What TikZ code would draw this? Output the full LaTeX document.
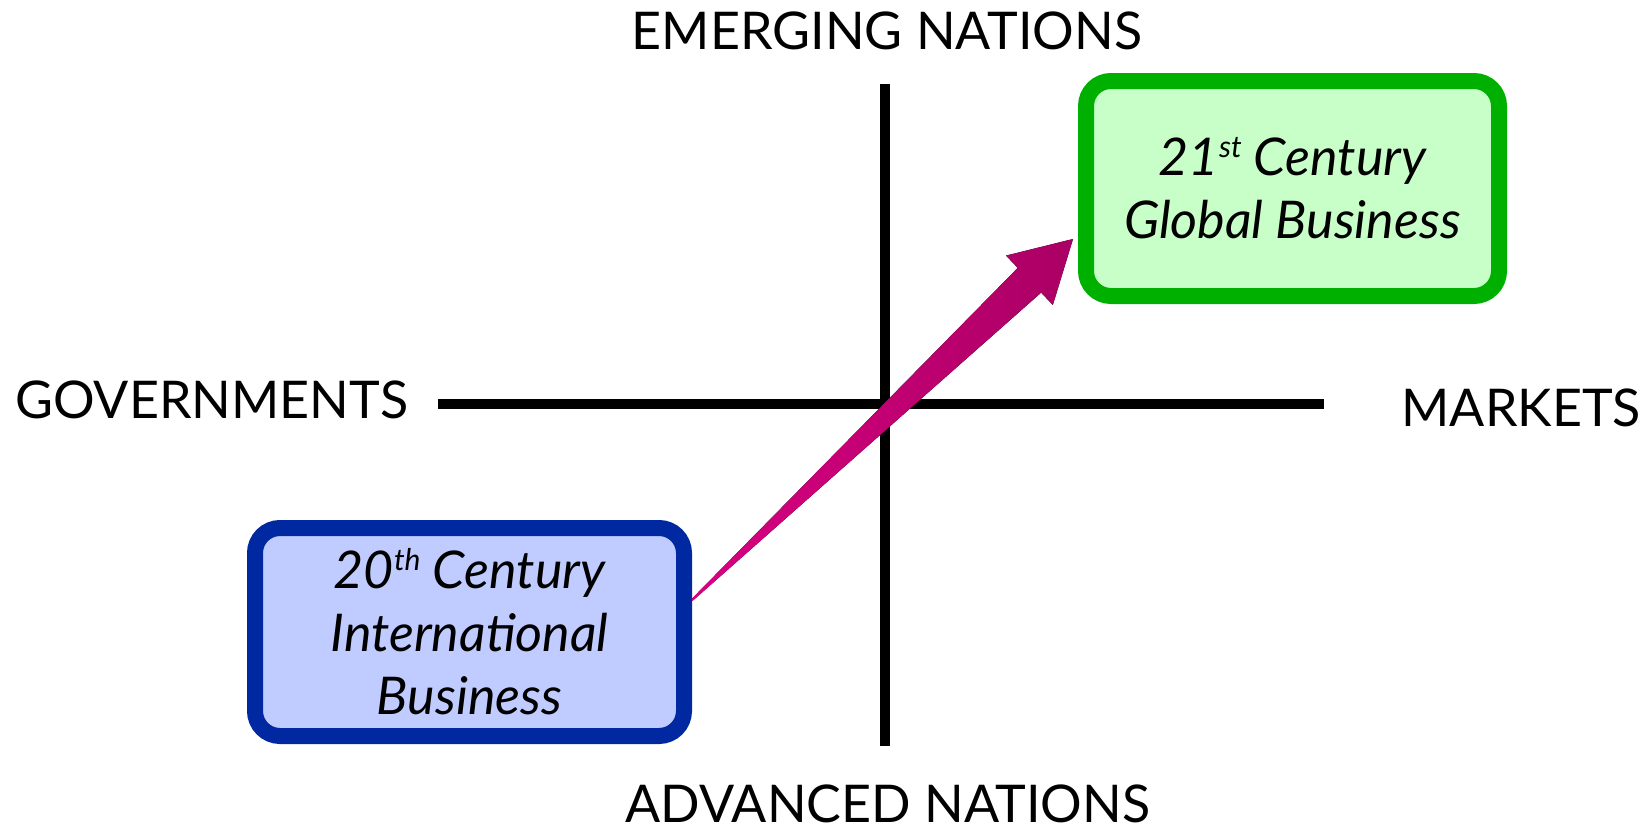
\documentclass[tikz,border=0pt]{standalone}
\usepackage{fontspec}
\setmainfont{Lato}
\usetikzlibrary{calc}

\definecolor{bluebd}{RGB}{0,40,160}
\definecolor{bluefl}{RGB}{192,204,255}
\definecolor{greenbd}{RGB}{0,176,0}
\definecolor{greenfl}{RGB}{200,255,200}
\definecolor{arrowtail}{RGB}{218,0,130}
\definecolor{arrowhead}{RGB}{170,0,100}

% small raised ordinal suffix
\newcommand\ordsup[1]{{\fontsize{30}{30}\selectfont\raisebox{18pt}{#1}}}

\begin{document}
\begin{tikzpicture}[x=1pt,y=-1pt,
  axislabel/.style={font=\fontsize{52}{60}\selectfont, inner sep=0pt},
  axisline/.style={line width=10pt},
  erabox/.style={rounded corners=25pt, line width=16pt, align=center,
    font=\itshape\fontsize{52}{63}\selectfont, inner sep=0pt, outer sep=0pt},
  shiftarrow/.style={left color=arrowtail, right color=arrowhead}]
\useasboundingbox (0,0) rectangle (1651,827);

% quadrant axes
\coordinate (vtop) at (885,84);
\coordinate (vbot) at (885,746);
\coordinate (hl) at (438,404);
\coordinate (hr) at (1324,404);
\draw[axisline] (vtop) -- (vbot);
\draw[axisline] (hl) -- (hr);

% axis labels
\node[axislabel, anchor=base] (emerg) at (887,49) {EMERGING NATIONS};
\node[axislabel, anchor=base] (adv) at (888,822) {ADVANCED NATIONS};
\node[axislabel, anchor=base west] (gov) at (15,418) {GOVERNMENTS};
\node[axislabel, anchor=base east] (mkt) at (1641,426) {MARKETS};

% the two eras
\node[erabox, draw=bluebd, fill=bluefl, minimum width=429pt, minimum height=208pt]
  (b20) at (469.5,632) {20\ordsup{th} Century\\International\\Business};
\node[erabox, draw=greenbd, fill=greenfl, minimum width=413pt, minimum height=215pt]
  (g21) at (1292.5,188.5) {21\ordsup{st} Century\\Global Business};

% tapered shift arrow
\coordinate (tail) at ($(b20.east)+(8,-32)$);
\coordinate (tip) at ($(g21.west)+(-13,50.5)$);
\coordinate (neck) at ($(tip)!60pt!(tail)$);
\fill[shiftarrow] ($(tail)!1pt!90:(tip)$) -- ($(neck)!17pt!90:(tip)$)
  -- ($(neck)!34pt!90:(tip)$) -- (tip) -- ($(neck)!34pt!-90:(tip)$)
  -- ($(neck)!17pt!-90:(tip)$) -- ($(tail)!1pt!-90:(tip)$) -- cycle;
\end{tikzpicture}
\end{document}
